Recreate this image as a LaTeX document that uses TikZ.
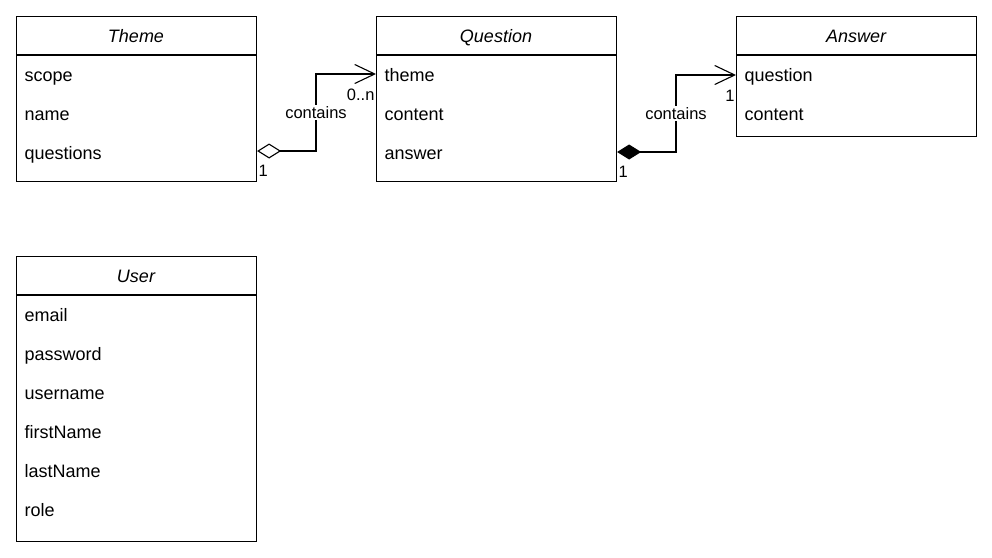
\documentclass[tikz,border=0pt]{standalone}
\usepackage{fontspec}
\setmainfont{Liberation Sans}
\usetikzlibrary{arrows.meta}
\begin{document}
\begin{tikzpicture}[x=1pt,y=-1pt,line width=1.1pt,
  classbox/.style={draw,rectangle,anchor=north west,minimum width=240pt,inner sep=0pt},
  headtext/.style={font=\fontsize{18}{21}\selectfont\itshape,anchor=base,inner sep=0pt},
  attr/.style={font=\fontsize{18}{21}\selectfont,anchor=base west,inner sep=0pt},
  edgelabel/.style={font=\fontsize{16.5}{19}\selectfont,fill=white,inner sep=1.5pt,anchor=base},
  mult/.style={font=\fontsize{16.5}{19}\selectfont,inner sep=0pt},
  assoc/.style={line width=1.1pt},
  aggtip/.style={{Diamond[open,length=24pt,width=15pt,line width=1.1pt]}-{Straight Barb[length=20pt,width=19pt,line width=1.1pt]}},
  comptip/.style={{Diamond[length=24pt,width=15pt]}-{Straight Barb[length=20pt,width=19pt,line width=1.1pt]}}
]
\useasboundingbox (0,0) rectangle (992,557);

% Theme class
\node[classbox,minimum height=165pt] (thm) at (16,16) {};
\draw (16,55) -- (256,55);
\node[headtext] at (136,42) {Theme};
\node[attr] (thm-scope) at (24,81) {scope};
\node[attr] (thm-name) at (24,120) {name};
\node[attr] (thm-questions) at (24,159) {questions};

% Question class
\node[classbox,minimum height=165pt] (qst) at (376,16) {};
\draw (376,55) -- (616,55);
\node[headtext] at (496,42) {Question};
\node[attr] (qst-theme) at (384,81) {theme};
\node[attr] (qst-content) at (384,120) {content};
\node[attr] (qst-answer) at (384,159) {answer};

% Answer class
\node[classbox,minimum height=120pt] (ans) at (736,16) {};
\draw (736,55) -- (976,55);
\node[headtext] at (856,42) {Answer};
\node[attr] (ans-question) at (744,81) {question};
\node[attr] (ans-content) at (744,120) {content};

% User class
\node[classbox,minimum height=285pt] (usr) at (16,256) {};
\draw (16,295) -- (256,295);
\node[headtext] at (136,282) {User};
\node[attr] (usr-email) at (24,321) {email};
\node[attr] (usr-password) at (24,360) {password};
\node[attr] (usr-username) at (24,399) {username};
\node[attr] (usr-firstName) at (24,438) {firstName};
\node[attr] (usr-lastName) at (24,477) {lastName};
\node[attr] (usr-role) at (24,516) {role};

% Theme 1 <>-- 0..n Question
\coordinate (c1) at (316,151);
\draw[assoc,aggtip] (thm.east |- c1) -- (c1) |- (qst.west |- 0,74);
\node[edgelabel] at (316,118) {contains};
\node[mult,anchor=base west] at (258,176) {1};
\node[mult,anchor=base east] at (375,100) {0..n};

% Question 1 <#>-- 1 Answer
\coordinate (c2) at (676,152);
\draw[assoc,comptip] (qst.east |- c2) -- (c2) |- (ans.west |- 0,75);
\node[edgelabel] at (676,119) {contains};
\node[mult,anchor=base west] at (618,177) {1};
\node[mult,anchor=base east] at (735,101) {1};
\end{tikzpicture}
\end{document}
